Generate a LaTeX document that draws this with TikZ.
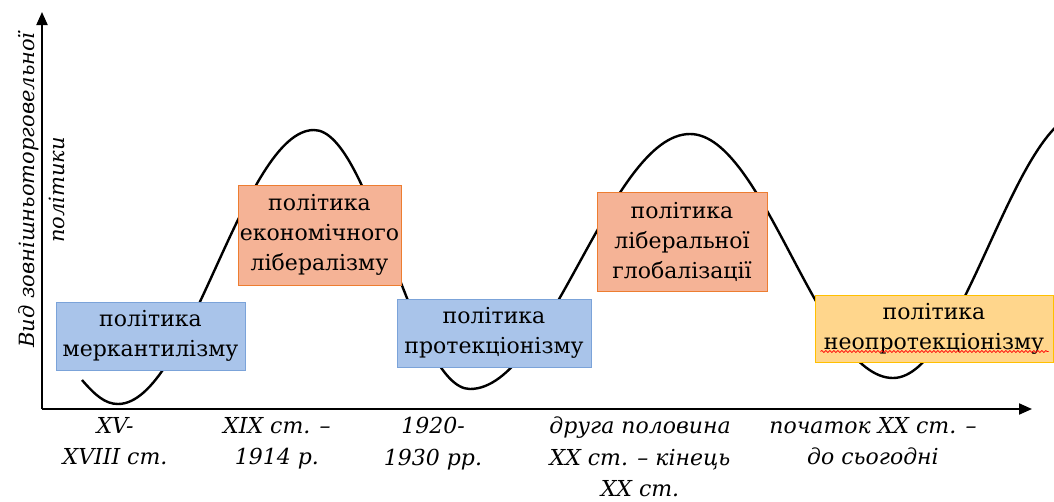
\documentclass[tikz,border=0pt]{standalone}
\usepackage{fontspec}
\newfontfamily\tnr{DejaVu Serif}
\usetikzlibrary{arrows.meta,decorations.pathmorphing,calc}
\definecolor{bluefill}{HTML}{A9C4EA}
\definecolor{blueline}{HTML}{7BA3D9}
\definecolor{orangefill}{HTML}{F5B396}
\definecolor{orangeline}{HTML}{ED7D31}
\definecolor{yellowfill}{HTML}{FFD68C}
\definecolor{yellowline}{HTML}{FFC000}
\tikzset{
  axis/.style={line width=2pt,-{Triangle[length=13pt,width=11pt]}},
  wave/.style={line width=2.4pt,black},
  policy/.style={draw,line width=1pt,inner sep=0pt,align=center,
     font=\tnr\fontsize{22}{30}\selectfont},
  bluebox/.style={policy,fill=bluefill,draw=blueline},
  orangebox/.style={policy,fill=orangefill,draw=orangeline},
  yellowbox/.style={policy,fill=yellowfill,draw=yellowline},
  period/.style={anchor=north,inner sep=0pt,align=center,
     font=\tnr\fontsize{22}{31.5}\selectfont\itshape},
  ylab/.style={rotate=90,inner sep=0pt,align=center,
     font=\tnr\fontsize{21}{30}\selectfont\itshape}
}
\begin{document}
\begin{tikzpicture}[x=1pt,y=-1pt]
\useasboundingbox (0,0) rectangle (1054,501);
\begin{scope}
\clip (0,0) rectangle (1054,501);
% wave
\coordinate (s) at (82,380);
\coordinate (m1) at (118,404);
\coordinate (p1) at (314,130);
\coordinate (m2) at (470,389);
\coordinate (p2) at (690,134);
\coordinate (m3) at (893,378);
\coordinate (p3) at (1085,112);
\draw[wave] (s) .. controls (95,395) and (105,404) .. (m1)
  .. controls (189,404) and (243,130) .. (p1)
  .. controls (371,130) and (413,389) .. (m2)
  .. controls (550,389) and (610,134) .. (p2)
  .. controls (764,134) and (819,378) .. (m3)
  .. controls (963,378) and (1015,112) .. (p3);
\end{scope}
% axes
\coordinate (O) at (42,409);
\coordinate (ytip) at (42,12);
\coordinate (xtip) at (1032,409);
\draw[axis] (O) -- (ytip);
\draw[axis] (O) -- (xtip);
% y label
\node[ylab] (yl) at (42,190) {Вид зовнішньоторговельної\\політики};
% boxes
\node[bluebox,minimum width=189pt,minimum height=68pt] (b1) at (150.5,336) {політика\\меркантилізму};
\node[orangebox,minimum width=163pt,minimum height=100pt] (b2) at (319.5,235) {політика\\економічного\\лібералізму};
\node[bluebox,minimum width=194pt,minimum height=68pt] (b3) at (494,333) {політика\\протекціонізму};
\node[orangebox,minimum width=170pt,minimum height=99pt] (b4) at (682,241.5) {політика\\ліберальної\\глобалізації};
\node[yellowbox,minimum width=238pt,minimum height=67pt] (b5) at (934,328.5) {політика\\неопротекціонізму};
\coordinate (u1) at ($(b5.south west)+(6,-11)$);
\coordinate (u2) at ($(b5.south east)+(-5,-11)$);
\draw[red,line width=0.7pt,decorate,decoration={snake,segment length=4pt,amplitude=1pt}] (u1) -- (u2);
% periods
\node[period] (t1) at (115,417) {XV-\\XVIII ст.};
\node[period] (t2) at (277,417) {XIX ст. –\\1914 р.};
\node[period] (t3) at (433,417) {1920-\\1930 рр.};
\node[period] (t4) at (640,417) {друга половина\\XX ст. – кінець\\XX ст.};
\node[period] (t5) at (873,417) {початок XX ст. –\\до сьогодні};
\end{tikzpicture}
\end{document}
